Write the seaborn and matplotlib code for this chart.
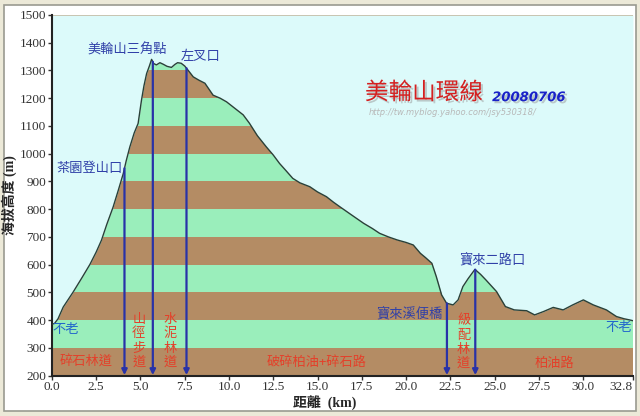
import numpy as np
import pandas as pd
import matplotlib.pyplot as plt
import seaborn as sns
from matplotlib.patches import Rectangle
import matplotlib.patheffects as pe

# 美輪山環線 2008.07.06 elevation profile

km = [0, 0.15, 0.35, 0.64, 1.2, 1.7, 2.15, 2.5, 2.8, 3.1, 3.46, 3.75, 4.03, 4.2, 4.4, 4.65,
      4.87, 5.06, 5.2, 5.35, 5.5, 5.63, 5.75, 5.9, 6.1, 6.3, 6.5, 6.75, 6.95, 7.1, 7.3, 7.5,
      7.7, 7.98, 8.3, 8.64, 9.1, 9.5, 9.86, 10.4, 10.8, 11.15, 11.6, 12.1, 12.5, 12.85, 13.2,
      13.6, 14.0, 14.56, 15.0, 15.5, 15.9, 16.25, 16.9, 17.6, 18.1, 18.5, 19.0, 19.5, 20.0,
      20.4, 20.8, 21.1, 21.45, 21.7, 22.0, 22.28, 22.65, 22.93, 23.2, 23.5, 23.88, 24.2, 24.5,
      25.1, 25.6, 26.1, 26.8, 27.25, 27.75, 28.3, 28.86, 29.4, 30.0, 30.56, 31.3, 31.87, 32.3,
      32.6, 32.8]
elev = [385, 388, 405, 447, 501, 553, 601, 645, 688, 745, 808, 868, 928, 975, 1024, 1075,
        1109, 1193, 1245, 1289, 1315, 1340, 1325, 1320, 1328, 1322, 1315, 1311, 1322, 1328, 1326, 1316,
        1300, 1277, 1265, 1254, 1211, 1200, 1187, 1160, 1140, 1110, 1065, 1025, 995, 965, 940,
        911, 895, 881, 862, 845, 825, 809, 780, 749, 730, 713, 700, 689, 680,
        671, 641, 625, 605, 557, 491, 461, 455, 473, 521, 550, 583, 565, 545,
        503, 449, 437, 434, 419, 431, 446, 437, 455, 473, 455, 437, 413, 405,
        401, 398]

x_ticks = [0, 2.5, 5, 7.5, 10, 12.5, 15, 17.5, 20, 22.5, 25, 27.5, 30, 32.8]
x_ticklabels = ['0.0', '2.5', '5.0', '7.5', '10.0', '12.5', '15.0', '17.5', '20.0', '22.5',
                '25.0', '27.5', '30.0', '32.8']
y_ticks = list(range(200, 1501, 100))

arrow_km = [4.1, 5.7, 7.6, 22.3, 23.9]

# place names (blue) and road types (red, some vertical)
places = ['美輪山三角點', '左叉口', '茶園登山口', '寶來溪便橋', '寶來二路口']
place_x = [4.23, 8.41, 2.15, 20.2, 24.87]
place_y = [1374, 1350, 947, 422, 617]
roads = ['碎石林道', '山\n徑\n步\n道', '水\n泥\n林\n道', '破碎柏油+碎石路', '級\n配\n林\n道', '柏油路']
road_x = [1.92, 4.91, 6.66, 14.93, 23.24, 28.35]
road_y = [247, 325, 325, 246, 321, 242]

brown = '#b48c64'
green = '#9aeebb'
sky = '#dcfafa'

sns.set_theme(style='ticks')
cjk = ['Noto Sans CJK TC', 'DejaVu Sans']
serif = ['Liberation Serif', 'Noto Sans CJK TC']
plt.rcParams['font.family'] = serif

df = pd.DataFrame({'km': km, 'elev': elev})

fig = plt.figure(figsize=(6.4, 4.16), dpi=100, facecolor='#ece9d8')
fig.patches.append(Rectangle((0.006, 0.012), 0.988, 0.976, transform=fig.transFigure,
                             facecolor='white', edgecolor='#9a9a90', lw=1.2, zorder=-10))
ax = fig.add_axes([0.081, 0.097, 0.908, 0.867])
ax.set_zorder(1)

for lo in range(200, 1500, 100):
    ax.axhspan(lo, lo + 100, color=brown if (lo // 100) % 2 == 0 else green, lw=0, zorder=0)
ax.fill_between(df['km'], df['elev'], 1500, color=sky, lw=0, zorder=1)
sns.lineplot(data=df, x='km', y='elev', color='#2a4038', lw=1.0, ax=ax, zorder=3)

arrow_top = np.interp(arrow_km, km, elev)
for xk, top in zip(arrow_km, arrow_top):
    ax.annotate('', xy=(xk, 202), xytext=(xk, top),
                arrowprops=dict(arrowstyle='-|>', color='#2832a8', lw=1.6,
                                mutation_scale=8, shrinkA=0, shrinkB=0), zorder=4)

for t, x, y in zip(places, place_x, place_y):
    ax.text(x, y, t, color='#3040a8', fontsize=9.5, ha='center', va='center', family=cjk, zorder=5)
ax.text(0.05, 365, '不老', color='#2266cc', fontsize=9.5, ha='left', va='center', family=cjk)
ax.text(32.75, 372, '不老', color='#2266cc', fontsize=9.5, ha='right', va='center', family=cjk)
for t, x, y in zip(roads, road_x, road_y):
    ax.text(x, y, t, color='#e4402a', fontsize=9.5, ha='center', va='center', family=cjk,
            linespacing=1.12, zorder=5)

shadow = [pe.withSimplePatchShadow(offset=(1.5, -1.5), shadow_rgbFace='#999999', alpha=0.5)]
ax.text(17.67, 1219, '美輪山環線', color='#d42020', fontsize=17, ha='left', va='center',
        family=cjk, path_effects=shadow)
ax.text(24.85, 1202, '20080706', color='#1a22c8', fontsize=9.5, ha='left', va='center',
        style='italic', weight='bold', family=['DejaVu Sans'], path_effects=shadow)
ax.text(17.9, 1150, 'http://tw.myblog.yahoo.com/jsy530318/', color='#b8b8b8', fontsize=6,
        ha='left', va='center', style='italic', family=['DejaVu Sans'])

ax.set_xlim(0, 32.8)
ax.set_ylim(200, 1500)
ax.set_xticks(x_ticks)
ax.set_xticklabels(x_ticklabels)
ax.get_xticklabels()[-1].set_horizontalalignment('right')
ax.set_yticks(y_ticks)
ax.tick_params(labelsize=9.5, length=3, width=1, colors='#333333', pad=1)
ax.set_xlabel('距離  (km)', fontsize=10, weight='bold', labelpad=1)
ax.xaxis.set_label_coords(0.47, -0.055)
ax.set_ylabel('海拔高度 (m)', fontsize=10, weight='bold', labelpad=2)
for s in ['left', 'bottom']:
    ax.spines[s].set_linewidth(1.5)
    ax.spines[s].set_color('#222222')
for s in ['top', 'right']:
    ax.spines[s].set_visible(False)

fig.savefig('out.png', dpi=100, facecolor=fig.get_facecolor())
